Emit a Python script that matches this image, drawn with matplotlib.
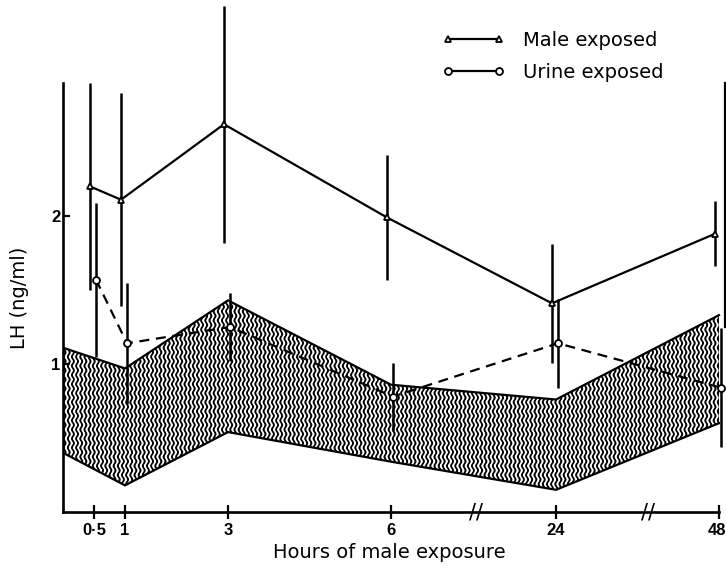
import numpy as np
import matplotlib
matplotlib.use('Agg')
import matplotlib.pyplot as plt
import matplotlib.hatch as mhatch
import matplotlib.transforms as mtransforms
from matplotlib.lines import Line2D
from matplotlib.path import Path

# ---------------- data ----------------
hours = [0.5, 1, 3, 6, 24, 48]
tick_labels = ['0·5', '1', '3', '6', '24', '48']
male = [2.20, 2.11, 2.62, 1.99, 1.41, 1.88]
male_err = [0.70, 0.72, 0.80, 0.42, 0.40, 0.22]
urine = [1.57, 1.14, 1.25, 0.78, 1.14, 0.84]
urine_err = [0.52, 0.41, 0.23, 0.23, 0.30, 0.40]
band_hours = [0, 1, 3, 6, 24, 48]
band_upper = [1.11, 0.97, 1.43, 0.86, 0.76, 1.33]
band_lower = [0.40, 0.18, 0.54, 0.34, 0.15, 0.60]
y_ticks = [1, 2]
y_tick_labels = ['1', '2']
break_hours = [15.3, 37.5]

# ---------------- style ----------------
plt.rcParams['font.family'] = ['Liberation Sans', 'DejaVu Sans']
plt.rcParams['hatch.linewidth'] = 1.25
LABEL_FONT = ['DejaVu Sans']


# wavy vertical hatch to imitate the printed texture
class WavyVerticalHatch(mhatch.HatchPatternBase):
    def __init__(self, hatch, density):
        self.num_lines = int((hatch.count('|') + hatch.count('+')) * density)
        self.n_seg = 160
        self.num_vertices = self.num_lines * (self.n_seg + 1)

    def set_vertices_and_codes(self, vertices, codes):
        steps, stepsize = np.linspace(0.0, 1.0, self.num_lines, False, retstep=True)
        steps += stepsize / 2.
        t = np.linspace(0, 1, self.n_seg + 1)
        wave = 0.26 * stepsize * np.sin(2 * np.pi * 11 * t)
        n = self.n_seg + 1
        for i, s in enumerate(steps):
            vertices[i * n:(i + 1) * n, 0] = s + wave
            vertices[i * n:(i + 1) * n, 1] = t
            codes[i * n] = Path.MOVETO
            codes[i * n + 1:(i + 1) * n] = Path.LINETO


mhatch._hatch_types = [WavyVerticalHatch if c is mhatch.VerticalHatch else c
                       for c in mhatch._hatch_types]

# piecewise axis scale (broken time axis)
h_knots = [0, 0.5, 1, 3, 6, 24, 48, 72]
p_knots = [0, 31, 62, 165, 328, 493, 656, 819]


def fwd(h):
    return np.interp(h, h_knots, p_knots)


def inv(p):
    return np.interp(p, p_knots, h_knots)


W, H = 726, 570
fig = plt.figure(figsize=(W / 100, H / 100), dpi=100)
ax = fig.add_axes([63 / W, 58 / H, (724.5 - 63) / W, 3.45 * 148 / H])
ax.set_xscale('function', functions=(fwd, inv))
ax.set_xlim(0, 48.81)
ax.set_ylim(0, 3.45)

# band
ax.fill_between(band_hours, band_lower, band_upper, facecolor='white',
                edgecolor='black', hatch='||||', linewidth=0, zorder=1)
ax.plot(band_hours, band_upper, color='black', lw=1.6, zorder=2)
ax.plot(band_hours, band_lower, color='black', lw=1.6, zorder=2)

# small horizontal dodge between the two series
male_tr = ax.transData + mtransforms.ScaledTranslation(-4 / 100, 0, fig.dpi_scale_trans)
urine_tr = ax.transData + mtransforms.ScaledTranslation(2 / 100, 0, fig.dpi_scale_trans)

male_lo = np.array(male) - np.array(male_err)
male_hi = np.array(male) + np.array(male_err)
urine_lo = np.array(urine) - np.array(urine_err)
urine_hi = np.array(urine) + np.array(urine_err)

ax.vlines(hours, male_lo, male_hi, colors='black', lw=1.8, transform=male_tr, zorder=3)
ax.vlines(hours, urine_lo, urine_hi, colors='black', lw=1.8, transform=urine_tr, zorder=3)

ax.plot(hours, male, color='black', lw=1.6, marker='^', ms=5, mfc='white',
        mec='black', mew=1.3, transform=male_tr, zorder=4)
ax.plot(hours, urine, color='black', lw=1.6, ls=(0, (4.5, 3)), marker='o', ms=5,
        mfc='white', mec='black', mew=1.3, transform=urine_tr, zorder=4)

# axes styling
ax.spines['top'].set_visible(False)
ax.spines['left'].set_linewidth(1.9)
ax.spines['bottom'].set_linewidth(1.9)
ax.spines['right'].set_linewidth(1.6)
ax.spines['left'].set_bounds(0, 2.9)
ax.spines['bottom'].set_bounds(0, 48)
ax.spines['right'].set_bounds(1.25, 2.9)

ax.set_xticks(hours)
ax.set_xticklabels(tick_labels, fontsize=12, fontweight='bold')
ax.set_yticks(y_ticks)
ax.set_yticklabels(y_tick_labels, fontsize=12, fontweight='bold')
ax.tick_params(axis='x', direction='inout', length=10, width=1.6, pad=3)
ax.tick_params(axis='y', direction='in', length=5, width=1.6, pad=2)

# keep the last tick label inside the figure
last = ax.get_xticklabels()[-1]
last.set_horizontalalignment('right')
last.set_transform(last.get_transform() +
                   mtransforms.ScaledTranslation(7 / 100, 0, fig.dpi_scale_trans))

for bh in break_hours:
    ax.text(bh, 0, '//', ha='center', va='center', fontsize=15,
            family=LABEL_FONT, transform=ax.transData, clip_on=False, zorder=5)

ax.set_xlabel('Hours of male exposure', fontsize=14, family=LABEL_FONT)
ax.xaxis.label.set_va('center')
ax.xaxis.set_label_coords(0.494, -0.080)
ax.set_ylabel('LH (ng/ml)', fontsize=14, family=LABEL_FONT)
ax.yaxis.label.set_va('center')
ax.yaxis.set_label_coords(-0.066, 0.419)

handles = [
    Line2D([], [], color='black', lw=1.6, marker='^', ms=5, mfc='white', mec='black', mew=1.3),
    Line2D([], [], color='black', lw=1.6, marker='o', ms=5, mfc='white', mec='black', mew=1.3),
]
ax.legend(handles, ['Male exposed', 'Urine exposed'], loc='upper left',
          bbox_to_anchor=(0.5735, 0.942), frameon=False, numpoints=2,
          prop={'family': LABEL_FONT, 'size': 14},
          handlelength=3.2, handletextpad=0.95, labelspacing=0.68, borderpad=0,
          borderaxespad=0)

fig.savefig('out.png', dpi=100)
